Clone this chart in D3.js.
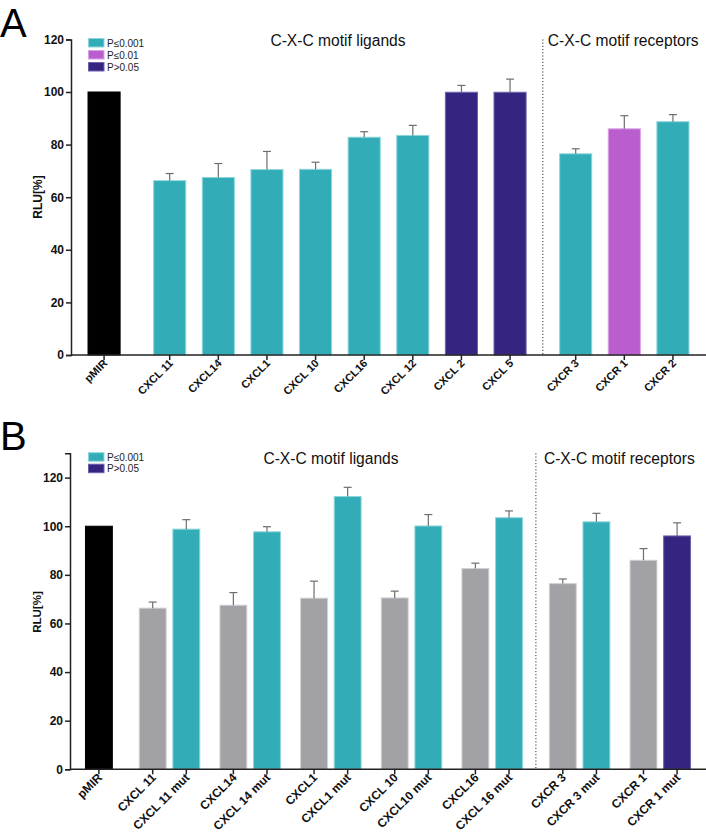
<!DOCTYPE html>
<html>
<head>
<meta charset="utf-8">
<script src="https://cdn.jsdelivr.net/npm/d3@7"></script>
<style>
  html, body { margin: 0; padding: 0; background: #fff; }
  svg { display: block; font-family: "Liberation Sans", Arial, Helvetica, sans-serif; }
</style>
</head>
<body>
<svg id="chart" width="706" height="835"></svg>
<script>
// ---------------- DATA ----------------
// Panel A
const catsA   = ["pMIR","CXCL 11","CXCL14","CXCL1","CXCL 10","CXCL16","CXCL 12","CXCL 2","CXCL 5","CXCR 3","CXCR 1","CXCR 2"];
const groupA  = ["ctrl","lig","lig","lig","lig","lig","lig","lig","lig","rec","rec","rec"];
const valsA   = [100, 66.3, 67.5, 70.5, 70.6, 82.8, 83.5, 99.9, 99.9, 76.5, 86.0, 88.7];
const errA    = [0,   2.7,  5.3,  6.9,  2.7,  2.1,  3.8,  2.6,  5.0,  1.9,  5.0,  2.7];
const sigA    = ["ctrl","p001","p001","p001","p001","p001","p001","ns","ns","p001","p01","p001"];
const legendA = [["p001","P≤0.001"],["p01","P≤0.01"],["ns","P>0.05"]];
const ticksA  = [0, 20, 40, 60, 80, 100, 120];

// Panel B
const catsB   = ["pMIR","CXCL 11","CXCL 11 mut","CXCL14","CXCL 14 mut","CXCL1","CXCL1 mut","CXCL 10","CXCL10 mut","CXCL16","CXCL 16 mut","CXCR 3","CXCR 3 mut","CXCR 1","CXCR 1 mut"];
const geneB   = ["pMIR","CXCL11","CXCL11","CXCL14","CXCL14","CXCL1","CXCL1","CXCL10","CXCL10","CXCL16","CXCL16","CXCR3","CXCR3","CXCR1","CXCR1"];
const groupB  = ["ctrl","lig","lig","lig","lig","lig","lig","lig","lig","lig","lig","rec","rec","rec","rec"];
const valsB   = [100, 66.3, 98.8, 67.5, 97.7, 70.4, 112.2, 70.5, 100.1, 82.6, 103.5, 76.4, 101.8, 86.0, 96.0];
const errB    = [0,   2.5,  3.9,  5.2,  2.1,  7.0,  3.8,   2.8,  4.7,   2.2,  2.8,   1.9,  3.5,   4.8,  5.4];
const sigB    = ["ctrl","wt","p001","wt","p001","wt","p001","wt","p001","wt","p001","wt","p001","wt","ns"];
const legendB = [["p001","P≤0.001"],["ns","P>0.05"]];
const ticksB  = [0, 20, 40, 60, 80, 100, 120];

const groupTitles = ["C-X-C motif ligands", "C-X-C motif receptors"];
const yLabel = "RLU[%]";

// ---------------- STYLE ----------------
const colors = { ctrl: "#000000", p001: "#32adb7", p01: "#b95dcf", ns: "#352580", wt: "#a2a1a6" };
const strokeCols = { ctrl: "#000000", p001: "#8ed6db", p01: "#d8a2e6", ns: "#6d62aa", wt: "#d2d1d5" };

const svg = d3.select("#chart");

function drawPanel(cfg) {
  const n = cfg.cats.length;
  // slot positions derived from grouping (layout only)
  const slots = [];
  for (let i = 0; i < n; i++) {
    if (i === 0) { slots.push(0); continue; }
    let step = cfg.stepSame;
    if (cfg.group[i] !== cfg.group[i-1]) step = cfg.stepGroup;
    else if (cfg.gene && cfg.gene[i] !== cfg.gene[i-1]) step = cfg.stepGene;
    slots.push(slots[i-1] + step);
  }
  const last = slots[n-1];
  const x = d3.scaleLinear().domain([-cfg.padL, last + cfg.padR]).range([cfg.left, cfg.right]);
  const bw = (x(1) - x(0)) * cfg.barFrac;
  const y = d3.scaleLinear().domain([0, cfg.yMax]).range([cfg.bottom, cfg.top]);

  const g = svg.append("g");
  const data = cfg.cats.map((c, i) => ({c, v: cfg.vals[i], e: cfg.err[i], s: cfg.sig[i], p: slots[i]}));

  // bars
  g.selectAll("rect.bar").data(data).enter().append("rect")
    .attr("class", "bar")
    .attr("x", d => x(d.p) - bw/2).attr("y", d => y(d.v))
    .attr("width", bw).attr("height", d => y(0) - y(d.v))
    .attr("fill", d => colors[d.s]).attr("stroke", d => strokeCols[d.s]).attr("stroke-width", 1);

  // error bars (upper half)
  const eb = g.selectAll("g.err").data(data.filter(d => d.e > 0)).enter().append("g")
    .attr("stroke", "#6e6e6e").attr("stroke-width", 1.2);
  eb.append("line").attr("x1", d => x(d.p)).attr("x2", d => x(d.p))
    .attr("y1", d => y(d.v)).attr("y2", d => y(d.v + d.e));
  eb.append("line").attr("x1", d => x(d.p) - 4).attr("x2", d => x(d.p) + 4)
    .attr("y1", d => y(d.v + d.e)).attr("y2", d => y(d.v + d.e));

  // dotted divider
  const lastLig = cfg.group.lastIndexOf("lig");
  const divX = (x(slots[lastLig]) + x(slots[lastLig+1])) / 2;
  g.append("line").attr("x1", divX).attr("x2", divX)
    .attr("y1", y(cfg.yMax)).attr("y2", y(0))
    .attr("stroke", "#333").attr("stroke-width", 1).attr("stroke-dasharray", "1.2,2");

  // y axis
  const yAxis = d3.axisLeft(y).tickValues(cfg.ticks).tickSize(5).tickPadding(2).tickFormat(d3.format("d"));
  const ya = g.append("g").attr("transform", `translate(${cfg.left},0)`).call(yAxis);
  ya.select(".domain").attr("stroke", "#222").attr("stroke-width", 1.5);
  ya.selectAll(".tick line").attr("stroke", "#222").attr("stroke-width", 1.5);
  ya.selectAll(".tick text").attr("font-size", 12).attr("font-weight", "bold").attr("fill", "#111")
    .attr("font-family", "Liberation Sans, Arial, sans-serif");

  // x axis
  const xa = g.append("g").attr("transform", `translate(0,${cfg.bottom})`);
  xa.append("line").attr("x1", cfg.left).attr("x2", cfg.right).attr("y1", 0).attr("y2", 0)
    .attr("stroke", "#222").attr("stroke-width", 1.5);
  xa.selectAll("line.tk").data(data).enter().append("line")
    .attr("class", "tk").attr("x1", d => x(d.p)).attr("x2", d => x(d.p))
    .attr("y1", 0).attr("y2", 5).attr("stroke", "#222").attr("stroke-width", 1.5);
  const lbl = xa.selectAll("g.xl").data(data).enter().append("g")
    .attr("class", "xl")
    .attr("transform", d => `translate(${x(d.p) + cfg.lblDx},${cfg.lblDy})`);
  lbl.append("text")
    .attr("transform", "rotate(-45)")
    .attr("text-anchor", "end")
    .attr("font-size", cfg.xFont).attr("font-weight", "bold").attr("fill", "#111")
    .text(d => d.c);

  // y label
  g.append("g").attr("transform", `translate(${cfg.yLabelX},${cfg.yLabelY})`)
    .append("text").attr("transform", "rotate(-90)")
    .attr("text-anchor", "middle")
    .attr("font-size", cfg.yLabelFont).attr("font-weight", "bold").attr("fill", "#111")
    .text(yLabel);

  // group titles
  g.append("text").attr("x", cfg.ligTitleX).attr("y", cfg.titleY)
    .attr("text-anchor", "middle").attr("font-size", 15.6).attr("fill", "#111").text(groupTitles[0]);
  g.append("text").attr("x", divX + cfg.recTitleDx).attr("y", cfg.titleY)
    .attr("text-anchor", "start").attr("font-size", 15.6).attr("fill", "#111").text(groupTitles[1]);

  // legend
  const lg = g.selectAll("g.leg").data(cfg.legend).enter().append("g")
    .attr("transform", (d, i) => `translate(${cfg.legX},${cfg.legY + i * cfg.legStep})`);
  lg.append("rect").attr("width", 15.5).attr("height", 8.5)
    .attr("fill", d => colors[d[0]]).attr("stroke", d => strokeCols[d[0]]).attr("stroke-width", 1);
  lg.append("text").attr("x", 18.5).attr("y", 8.2).attr("font-size", 10).attr("fill", "#222").text(d => d[1]);

  // panel letter
  g.append("text").attr("x", cfg.letterX).attr("y", cfg.letterY)
    .attr("font-size", 40).attr("fill", "#000").text(cfg.letter);
}

drawPanel({
  cats: catsA, group: groupA, gene: null, vals: valsA, err: errA, sig: sigA,
  legend: legendA, ticks: ticksA,
  stepSame: 1, stepGene: 1, stepGroup: 1.35,
  padL: 0.68, padR: 0.68, left: 71, right: 706, barFrac: 0.66,
  yMax: 120, top: 39.4, bottom: 355,
  lblDx: 4, lblDy: 9, xFont: 11,
  yLabelX: 42, yLabelY: 197, yLabelFont: 12,
  ligTitleX: 338, titleY: 46, recTitleDx: 5,
  legX: 88.5, legY: 38.5, legStep: 12,
  letter: "A", letterX: 0, letterY: 37
});

drawPanel({
  cats: catsB, group: groupB, gene: geneB, vals: valsB, err: errB, sig: sigB,
  legend: legendB, ticks: ticksB,
  stepSame: 1, stepGene: 1.4, stepGroup: 1.6,
  padL: 0.86, padR: 0.86, left: 70, right: 706, barFrac: 0.8,
  yMax: 130, top: 453.3, bottom: 769.3,
  lblDx: 4, lblDy: 9, xFont: 12,
  yLabelX: 41, yLabelY: 612, yLabelFont: 11.5,
  ligTitleX: 331, titleY: 464, recTitleDx: 8,
  legX: 88.5, legY: 452.7, legStep: 11.5,
  letter: "B", letterX: 0, letterY: 450
});
</script>
</body>
</html>
